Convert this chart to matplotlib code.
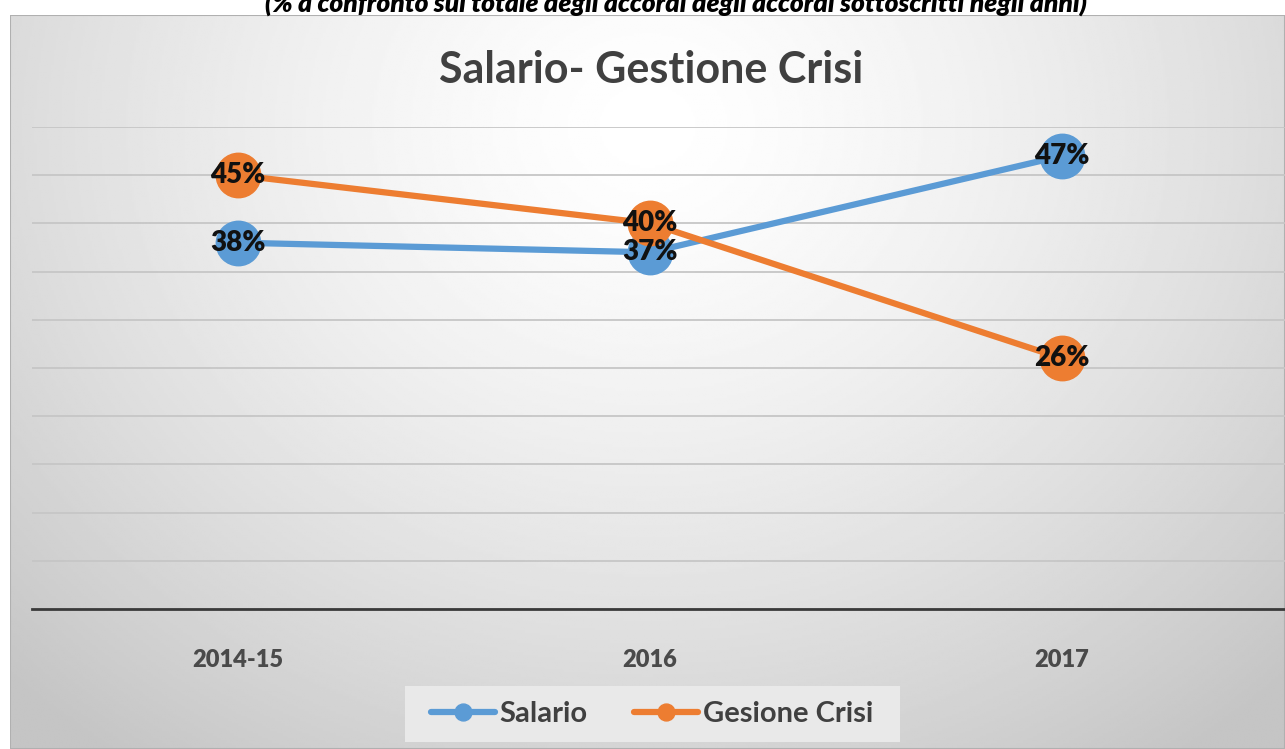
import numpy as np
import matplotlib.pyplot as plt
from matplotlib.patches import Rectangle

categories = ["2014-15", "2016", "2017"]
salario = [38, 37, 47]
gestione_crisi = [45, 40, 26]
series_names = ["Salario", "Gesione Crisi"]

BLUE = "#5B9BD5"
ORANGE = "#ED7D31"
W, H = 1285, 749

plt.rcParams['font.family'] = ['Lato', 'DejaVu Sans']

fig = plt.figure(figsize=(W / 100, H / 100), dpi=100)
fig.patch.set_facecolor("white")

# gradient background of the chart area
top_px = 15
bg = fig.add_axes([10 / W, 0, 1 - 10 / W, 1 - top_px / H])
yy, xx = np.mgrid[0:1:300j, 0:1:600j]
r = np.sqrt(((xx - 0.5) / 0.8) ** 2 + ((yy - 0.15) / 1.2) ** 2)
shade = np.clip(1.0 - 0.27 * r ** 1.4, 0.77, 1.0)
bg.imshow(shade, cmap="gray", vmin=0, vmax=1, aspect="auto", extent=[0, 1, 1, 0])
bg.set_xlim(0, 1)
bg.set_ylim(1, 0)
bg.axis("off")
bg.add_patch(Rectangle((0, 0), 1, 1, transform=bg.transAxes, fill=False,
                       edgecolor="#b0b0b0", linewidth=1.5))

# legend box background
bg.add_patch(Rectangle(((405 - 10) / (W - 10), (686 - top_px) / (H - top_px)),
                       495 / (W - 10), 56 / (H - top_px),
                       facecolor="#e9e9e9", edgecolor="none", zorder=2))

ax = fig.add_axes([32 / W, 1 - 609 / H, (1285 - 32) / W, (609 - 127) / H])
ax.patch.set_alpha(0)
x = np.arange(len(categories))
ax.set_xlim(-0.5, 2.5 + 17 / 412)
ax.set_ylim(0, 50)
ax.set_yticks(np.arange(0, 51, 5))
ax.yaxis.grid(True, color="#c6c6c6", linewidth=1.3)
ax.set_axisbelow(True)
for s in ["top", "right", "left"]:
    ax.spines[s].set_visible(False)
ax.spines["bottom"].set_color("#3a3a3a")
ax.spines["bottom"].set_linewidth(2)
ax.tick_params(axis="y", left=False, labelleft=False)
ax.tick_params(axis="x", bottom=False, pad=25)
ax.set_xticks(x)
ax.set_xticklabels(categories, fontsize=17, fontweight="heavy", color="#4a4a4a")

l1, = ax.plot(x, salario, color=BLUE, linewidth=4.5, marker="o", markersize=32,
              solid_capstyle="round", label=series_names[0], zorder=3)
l2, = ax.plot(x, gestione_crisi, color=ORANGE, linewidth=4.5, marker="o", markersize=32,
              solid_capstyle="round", label=series_names[1], zorder=3)

for xi, v in zip(x, salario):
    ax.text(xi, v, f"{v}%", ha="center", va="center", fontsize=20,
            fontweight="heavy", color="#111111", zorder=5)
for xi, v in zip(x, gestione_crisi):
    ax.text(xi, v, f"{v}%", ha="center", va="center", fontsize=20,
            fontweight="heavy", color="#111111", zorder=5)

leg = fig.legend(handles=[l1, l2], loc="center", bbox_to_anchor=(652 / W, 1 - 714 / H),
                 ncol=2, frameon=False, fontsize=21, markerscale=0.38,
                 handlelength=2.2, columnspacing=1.6, handletextpad=0.15)
for t in leg.get_texts():
    t.set_color("#404040")
    t.set_fontweight("bold")

fig.text(651 / W, 1 - 70 / H, "Salario- Gestione Crisi", ha="center", va="center",
         fontsize=31, fontweight="bold", color="#404040")

fig.text(676 / W, 1 - 3 / H,
         "(% a confronto sul totale degli accordi degli accordi sottoscritti negli anni)",
         ha="center", va="center", fontsize=19, fontweight="heavy", style="italic",
         color="black")

fig.savefig("out.png", dpi=100)
